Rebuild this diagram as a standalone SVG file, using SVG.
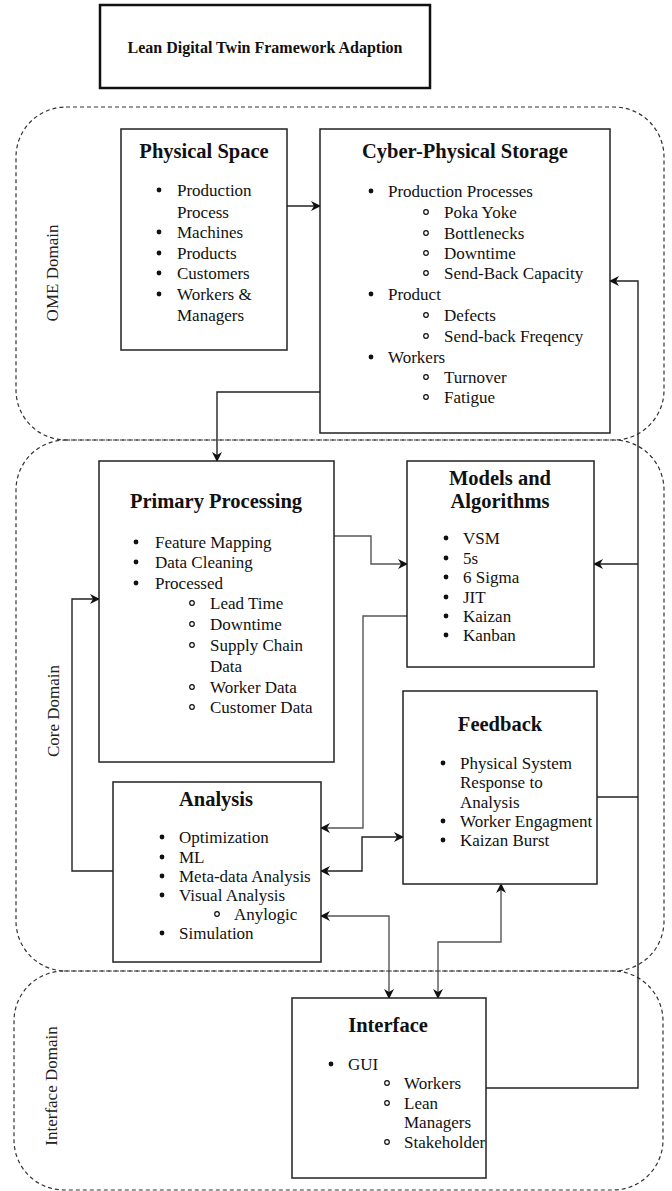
<svg xmlns="http://www.w3.org/2000/svg" width="672" height="1191" viewBox="0 0 672 1191" font-family="'Liberation Serif','DejaVu Serif',serif">
<style>
text{font-family:"Liberation Serif","DejaVu Serif",serif;fill:#111}
.h{font-weight:bold;font-size:20.5px;text-anchor:middle}
.t{font-size:17px}
.dom{fill:none;stroke:#333;stroke-width:1.2;stroke-dasharray:4 3}
.dl{font-size:17px;text-anchor:middle;fill:#222}
.box{fill:#fff;stroke:#222;stroke-width:1.5}
.b1{fill:#111}
.b2{fill:none;stroke:#111;stroke-width:1.2}
.c{fill:none;stroke:#222;stroke-width:1.4}
.g{fill:none;stroke:#555;stroke-width:1.4}
</style>
<defs>
<marker id="ar" viewBox="0 0 10 10" refX="9" refY="5" markerWidth="10" markerHeight="10" markerUnits="userSpaceOnUse" orient="auto-start-reverse">
<path d="M0,0 L10,5 L0,10 L3,5 z" fill="#111"/>
</marker>
</defs>
<rect width="672" height="1191" fill="#fff"/>

<g id="domains">
<rect class="dom" x="16" y="107" width="648" height="333" rx="50"/>
<rect class="dom" x="16" y="440" width="648" height="531" rx="50"/>
<rect class="dom" x="14" y="971" width="649" height="219" rx="50"/>
<text class="dl" transform="translate(58,273) rotate(-90)">OME Domain</text>
<text class="dl" transform="translate(59,711) rotate(-90)">Core Domain</text>
<text class="dl" transform="translate(57,1086) rotate(-90)">Interface Domain</text>
</g>

<g id="title">
<rect x="100" y="5" width="330" height="83" fill="#fff" stroke="#111" stroke-width="2.5"/>
<text x="265" y="53" style="font-weight:bold;font-size:16px;text-anchor:middle">Lean Digital Twin Framework Adaption</text>
</g>

<g id="connectors">
<path class="c" d="M287,206 H320" marker-end="url(#ar)"/>
<path class="c" d="M320,392 H217 V461" marker-end="url(#ar)"/>
<path class="c" d="M486,1088 H638 V281 H610" marker-end="url(#ar)"/>
<path class="c" d="M638,564 H594" marker-end="url(#ar)"/>
<path class="c" d="M597,797 H638"/>
<path class="g" d="M334,536 H371 V564 H407" marker-end="url(#ar)"/>
<path class="g" d="M407,616 H363 V828 H321" marker-end="url(#ar)"/>
<path class="c" d="M321,871 H362 V837 H403" marker-start="url(#ar)" marker-end="url(#ar)"/>
<path class="g" d="M321,916 H389 V998" marker-start="url(#ar)" marker-end="url(#ar)"/>
<path class="g" d="M501,884 V942 H438 V998" marker-start="url(#ar)" marker-end="url(#ar)"/>
<path class="c" d="M113,871 H72 V599 H99" marker-end="url(#ar)"/>
</g>

<g id="physical-space">
<rect class="box" x="121" y="129" width="166" height="221"/>
<text class="h" x="204" y="158">Physical Space</text>
<circle class="b1" cx="159" cy="190" r="2.4"/><text class="t" x="177" y="196">Production</text>
<text class="t" x="177" y="218">Process</text>
<circle class="b1" cx="159" cy="232" r="2.4"/><text class="t" x="177" y="238">Machines</text>
<circle class="b1" cx="159" cy="253" r="2.4"/><text class="t" x="177" y="259">Products</text>
<circle class="b1" cx="159" cy="273" r="2.4"/><text class="t" x="177" y="279">Customers</text>
<circle class="b1" cx="159" cy="294" r="2.4"/><text class="t" x="177" y="300">Workers &amp;</text>
<text class="t" x="177" y="321">Managers</text>
</g>

<g id="cyber-physical-storage">
<rect class="box" x="320" y="129" width="290" height="304"/>
<text class="h" x="465" y="158">Cyber-Physical Storage</text>
<circle class="b1" cx="371" cy="191" r="2.4"/><text class="t" x="388" y="197">Production Processes</text>
<circle class="b2" cx="426" cy="212" r="2.3"/><text class="t" x="444" y="218">Poka Yoke</text>
<circle class="b2" cx="426" cy="233" r="2.3"/><text class="t" x="444" y="239">Bottlenecks</text>
<circle class="b2" cx="426" cy="253" r="2.3"/><text class="t" x="444" y="259">Downtime</text>
<circle class="b2" cx="426" cy="273" r="2.3"/><text class="t" x="444" y="279">Send-Back Capacity</text>
<circle class="b1" cx="371" cy="294" r="2.4"/><text class="t" x="388" y="300">Product</text>
<circle class="b2" cx="426" cy="315" r="2.3"/><text class="t" x="444" y="321">Defects</text>
<circle class="b2" cx="426" cy="336" r="2.3"/><text class="t" x="444" y="342">Send-back Freqency</text>
<circle class="b1" cx="371" cy="357" r="2.4"/><text class="t" x="388" y="363">Workers</text>
<circle class="b2" cx="426" cy="377" r="2.3"/><text class="t" x="444" y="383">Turnover</text>
<circle class="b2" cx="426" cy="397" r="2.3"/><text class="t" x="444" y="403">Fatigue</text>
</g>

<g id="primary-processing">
<rect class="box" x="99" y="461" width="235" height="301"/>
<text class="h" x="216" y="508">Primary Processing</text>
<circle class="b1" cx="136" cy="542" r="2.4"/><text class="t" x="155" y="548">Feature Mapping</text>
<circle class="b1" cx="136" cy="562" r="2.4"/><text class="t" x="155" y="568">Data Cleaning</text>
<circle class="b1" cx="136" cy="583" r="2.4"/><text class="t" x="155" y="589">Processed</text>
<circle class="b2" cx="192" cy="603" r="2.3"/><text class="t" x="210" y="609">Lead Time</text>
<circle class="b2" cx="192" cy="624" r="2.3"/><text class="t" x="210" y="630">Downtime</text>
<circle class="b2" cx="192" cy="645" r="2.3"/><text class="t" x="210" y="651">Supply Chain</text>
<text class="t" x="210" y="672">Data</text>
<circle class="b2" cx="192" cy="687" r="2.3"/><text class="t" x="210" y="693">Worker Data</text>
<circle class="b2" cx="192" cy="707" r="2.3"/><text class="t" x="210" y="713">Customer Data</text>
</g>

<g id="models-and-algorithms">
<rect class="box" x="407" y="461" width="187" height="206"/>
<text class="h" x="500" y="485">Models and</text>
<text class="h" x="500" y="508">Algorithms</text>
<circle class="b1" cx="446" cy="538" r="2.4"/><text class="t" x="463" y="544">VSM</text>
<circle class="b1" cx="446" cy="558" r="2.4"/><text class="t" x="463" y="564">5s</text>
<circle class="b1" cx="446" cy="577" r="2.4"/><text class="t" x="463" y="583">6 Sigma</text>
<circle class="b1" cx="446" cy="597" r="2.4"/><text class="t" x="463" y="603">JIT</text>
<circle class="b1" cx="446" cy="616" r="2.4"/><text class="t" x="463" y="622">Kaizan</text>
<circle class="b1" cx="446" cy="635" r="2.4"/><text class="t" x="463" y="641">Kanban</text>
</g>

<g id="feedback">
<rect class="box" x="403" y="691" width="194" height="193"/>
<text class="h" x="500" y="731">Feedback</text>
<circle class="b1" cx="443" cy="763" r="2.4"/><text class="t" x="460" y="769">Physical System</text>
<text class="t" x="460" y="788">Response to</text>
<text class="t" x="460" y="808">Analysis</text>
<circle class="b1" cx="443" cy="821" r="2.4"/><text class="t" x="460" y="827">Worker Engagment</text>
<circle class="b1" cx="443" cy="840" r="2.4"/><text class="t" x="460" y="846">Kaizan Burst</text>
</g>

<g id="analysis">
<rect class="box" x="113" y="782" width="208" height="180"/>
<text class="h" x="216" y="806">Analysis</text>
<circle class="b1" cx="162" cy="837" r="2.4"/><text class="t" x="179" y="843">Optimization</text>
<circle class="b1" cx="162" cy="857" r="2.4"/><text class="t" x="179" y="863">ML</text>
<circle class="b1" cx="162" cy="876" r="2.4"/><text class="t" x="179" y="882">Meta-data Analysis</text>
<circle class="b1" cx="162" cy="895" r="2.4"/><text class="t" x="179" y="901">Visual Analysis</text>
<circle class="b2" cx="217" cy="914" r="2.3"/><text class="t" x="234" y="920">Anylogic</text>
<circle class="b1" cx="162" cy="933" r="2.4"/><text class="t" x="179" y="939">Simulation</text>
</g>

<g id="interface">
<rect class="box" x="292" y="998" width="194" height="180"/>
<text class="h" x="388" y="1032">Interface</text>
<circle class="b1" cx="331" cy="1064" r="2.4"/><text class="t" x="348" y="1070">GUI</text>
<circle class="b2" cx="387" cy="1083" r="2.3"/><text class="t" x="404" y="1089">Workers</text>
<circle class="b2" cx="387" cy="1103" r="2.3"/><text class="t" x="404" y="1109">Lean</text>
<text class="t" x="404" y="1128">Managers</text>
<circle class="b2" cx="387" cy="1142" r="2.3"/><text class="t" x="404" y="1148">Stakeholder</text>
</g>
</svg>
